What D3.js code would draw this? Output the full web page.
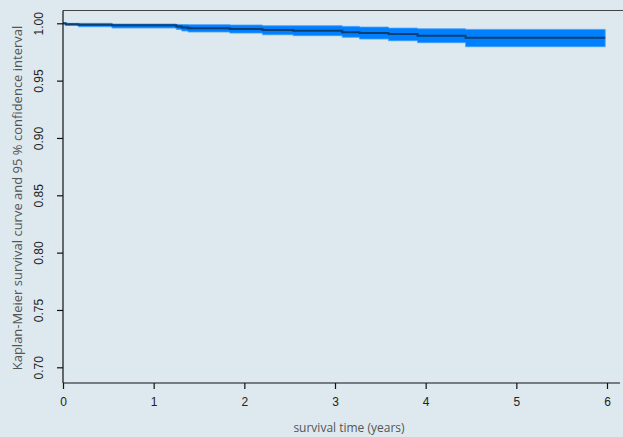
<!DOCTYPE html>
<html><head><meta charset="utf-8">
<script src="https://cdn.jsdelivr.net/npm/d3@7"></script>
<style>
html,body{margin:0;padding:0;background:#dde9ef;}
svg{display:block;}
</style></head>
<body>
<script>
const times = [0, 0.03, 0.17, 0.54, 1.25, 1.31, 1.38, 1.84, 2.20, 2.54, 3.08, 3.27, 3.59, 3.91, 4.44];
const endTime = 5.98;
const survival = [1.0000, 0.9991, 0.9987, 0.9983, 0.9972, 0.9963, 0.9956, 0.9950, 0.9942, 0.9935, 0.9921, 0.9915, 0.9907, 0.9892, 0.9874];
const upper = [1.0000, 1.0000, 1.0000, 0.9994, 0.9990, 0.9989, 0.9988, 0.9985, 0.9979, 0.9979, 0.9973, 0.9967, 0.9958, 0.9952, 0.9947];
const lower = [0.9994, 0.9981, 0.9970, 0.9959, 0.9946, 0.9933, 0.9924, 0.9915, 0.9900, 0.9892, 0.9878, 0.9863, 0.9848, 0.9831, 0.9796];
const xTicks = [0, 1, 2, 3, 4, 5, 6];
const yTicks = [0.70, 0.75, 0.80, 0.85, 0.90, 0.95, 1.00];

const W = 623, H = 437;
const svg = d3.select("body").append("svg").attr("width", W).attr("height", H);
svg.append("rect").attr("width", W).attr("height", H).attr("fill", "#dde9ef");

const x = d3.scaleLinear().domain([0, 6]).range([63, 607]);
const y = d3.scaleLinear().domain([0.70, 1.00]).range([367.3, 23.3]);
const yBottom = 383, yTop = 10.5;

const pts = times.map((t, i) => ({t, s: survival[i], u: upper[i], l: lower[i]}));
pts.push({t: endTime, s: survival[survival.length - 1], u: upper[upper.length - 1], l: lower[lower.length - 1]});

// confidence band
const area = d3.area().curve(d3.curveStepAfter)
  .x(d => x(d.t)).y0(d => y(d.l)).y1(d => y(d.u));
svg.append("path").datum(pts).attr("d", area)
  .attr("fill", "#0080ff").attr("stroke", "#3fa0ff").attr("stroke-width", 0.8);

// survival line
const line = d3.line().curve(d3.curveStepAfter).x(d => x(d.t)).y(d => y(d.s));
svg.append("path").datum(pts).attr("d", line)
  .attr("fill", "none").attr("stroke", "#0b3f72").attr("stroke-width", 2);

// top border
svg.append("line").attr("x1", 63).attr("x2", W).attr("y1", yTop).attr("y2", yTop)
  .attr("stroke", "#444").attr("stroke-width", 1.2);

// x axis
const gx = svg.append("g").attr("transform", `translate(0,${yBottom})`);
gx.append("line").attr("x1", 63).attr("x2", 620).attr("stroke", "#111").attr("stroke-width", 1.2);
const xAxis = d3.axisBottom(x).tickValues(xTicks).tickFormat(d3.format("d")).tickSize(6).tickPadding(8);
gx.call(xAxis);
gx.select(".domain").remove();
gx.selectAll(".tick line").attr("stroke", "#111").attr("stroke-width", 1.2);
gx.selectAll(".tick text").attr("font-family", "Liberation Sans, Arial, sans-serif").attr("font-size", 12).attr("fill", "#222");

// y axis
const gy = svg.append("g").attr("transform", `translate(63,0)`);
gy.append("line").attr("y1", yTop).attr("y2", yBottom).attr("stroke", "#111").attr("stroke-width", 1.2);
const yAxis = d3.axisLeft(y).tickValues(yTicks).tickFormat(d3.format(".2f")).tickSize(6).tickPadding(0);
gy.call(yAxis);
gy.select(".domain").remove();
gy.selectAll(".tick line").attr("stroke", "#111").attr("stroke-width", 1.2);
gy.selectAll(".tick text")
  .attr("font-family", "Liberation Sans, Arial, sans-serif").attr("font-size", 12).attr("fill", "#222")
  .attr("text-anchor", "middle").attr("x", null).attr("dy", null)
  .attr("transform", "translate(-23,0) rotate(-90)")
  .attr("dominant-baseline", "middle");

// axis titles
svg.append("text").attr("x", 349).attr("y", 432).attr("text-anchor", "middle")
  .attr("font-family", "Open Sans, sans-serif").attr("font-size", 12).attr("fill", "#555")
  .text("survival time (years)");
svg.append("text").attr("transform", "translate(22,198) rotate(-90)").attr("text-anchor", "middle")
  .attr("font-family", "Open Sans, sans-serif").attr("font-size", 13).attr("fill", "#555")
  .text("Kaplan-Meier survival curve and 95 % confidence interval");
</script>
</body></html>
